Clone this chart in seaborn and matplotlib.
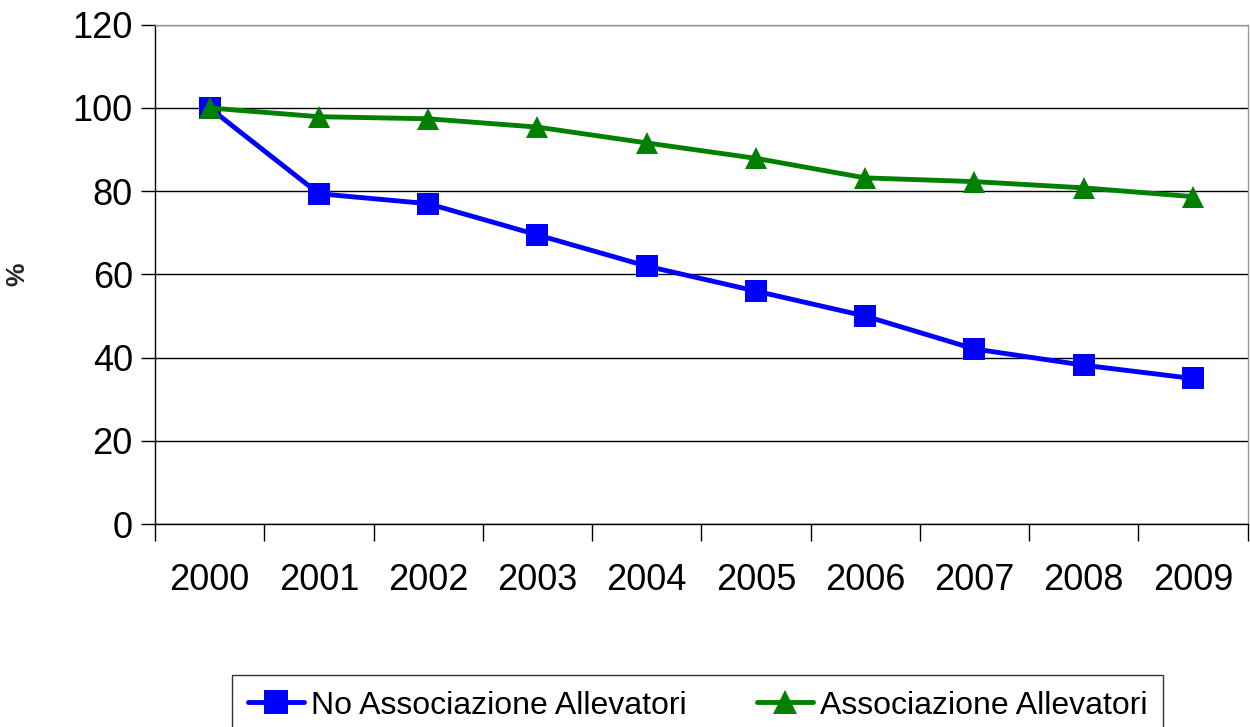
import numpy as np
import pandas as pd
import seaborn as sns
import matplotlib.pyplot as plt
from matplotlib.ticker import FixedLocator

years = ['2000', '2001', '2002', '2003', '2004', '2005', '2006', '2007', '2008', '2009']
no_assoc = [100, 79.4, 77.0, 69.5, 62.0, 56.0, 50.0, 42.1, 38.2, 35.0]
assoc = [100, 97.9, 97.4, 95.4, 91.6, 87.9, 83.2, 82.3, 80.8, 78.7]
series_names = ['No Associazione Allevatori', 'Associazione Allevatori']

df = pd.concat([
    pd.DataFrame({'anno': years, 'valore': no_assoc, 'serie': series_names[0]}),
    pd.DataFrame({'anno': years, 'valore': assoc, 'serie': series_names[1]}),
])

sns.set_style('white')
plt.rcParams['font.family'] = ['Liberation Sans', 'DejaVu Sans']
plt.rcParams['text.color'] = 'black'
plt.rcParams['xtick.color'] = 'black'
plt.rcParams['ytick.color'] = 'black'

fig = plt.figure(figsize=(12.5, 7.27), dpi=100)
ax = fig.add_axes([0.124, 0.279, 0.874, 0.687])

sns.lineplot(data=df, x='anno', y='valore', hue='serie', style='serie',
             palette={series_names[0]: '#0000ff', series_names[1]: '#008000'},
             markers={series_names[0]: 's', series_names[1]: '^'},
             dashes=False, linewidth=3.5, markersize=16, markeredgewidth=0,
             sort=False, ax=ax)

ax.set_ylim(0, 120)
ax.set_xlim(-0.5, len(years) - 0.5)
ax.set_yticks(range(0, 121, 20))
ax.yaxis.grid(True, color='black', linewidth=1)
ax.set_axisbelow(True)
ax.tick_params(axis='y', labelsize=26, length=10, width=1, direction='out', left=True, pad=6)
ax.tick_params(axis='x', which='major', labelsize=26, length=0, pad=28)
ax.xaxis.set_minor_locator(FixedLocator(np.arange(-0.5, len(years), 1.0)))
ax.tick_params(axis='x', which='minor', length=12, width=1, direction='out', bottom=True)

for side in ['left', 'bottom']:
    ax.spines[side].set_color('black')
    ax.spines[side].set_linewidth(1)
for side in ['top', 'right']:
    ax.spines[side].set_color('#999999')
    ax.spines[side].set_linewidth(1)

ax.set_xlabel('')
ax.set_ylabel('%', fontsize=19, fontweight='bold')
ax.yaxis.set_label_coords(-0.115, 0.5)

handles, labels = ax.get_legend_handles_labels()
for h in handles:
    h.set_markersize(17)
    h.set_linewidth(3.5)
ax.legend(handles, labels, loc='upper center', bbox_to_anchor=(0.558, 0.072),
          bbox_transform=fig.transFigure, ncol=2, frameon=True, fancybox=False,
          edgecolor='black', handlelength=1.75, handletextpad=0.22, columnspacing=2.2,
          borderpad=0.5, borderaxespad=0, prop={'size': 23})

fig.savefig('out.png', dpi=100)
